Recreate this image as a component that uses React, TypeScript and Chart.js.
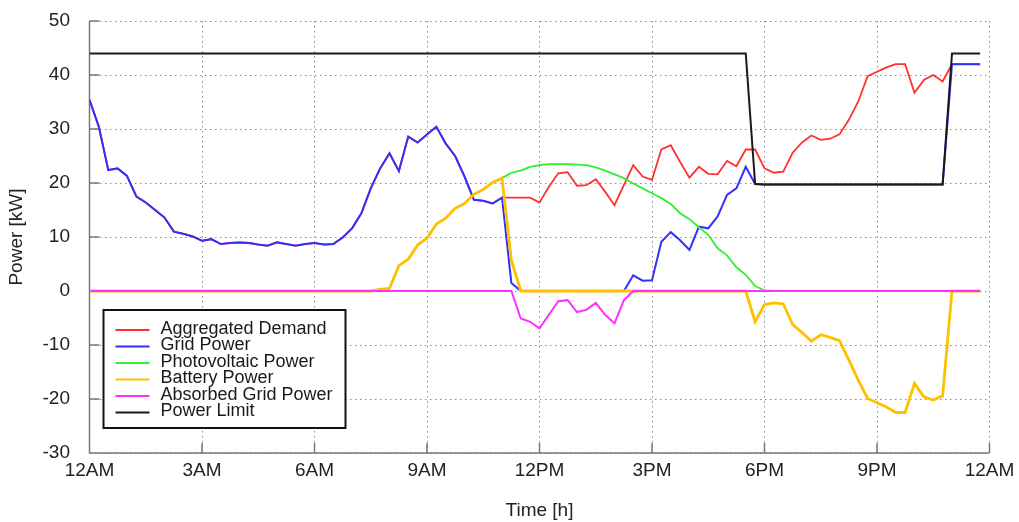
import React, { useEffect, useRef } from 'react';
import { Chart, registerables } from 'chart.js';

Chart.register(...registerables);

const FONT = "'Liberation Sans', Arial, Helvetica, sans-serif";

const X_TICK_LABELS = ['12AM', '3AM', '6AM', '9AM', '12PM', '3PM', '6PM', '9PM', '12AM'];
const SLOTS_PER_HOUR = 4; // 15-minute samples

// 96 samples, 00:00 .. 23:45
const gridPower = [
  35.4, 30.4, 22.4, 22.7,
  21.3, 17.5, 16.4, 15.0,
  13.6, 11.0, 10.6, 10.1,
  9.3, 9.6, 8.7, 8.9,
  9.0, 8.9, 8.6, 8.4,
  9.0, 8.7, 8.4, 8.7,
  8.9, 8.6, 8.7, 9.9,
  11.6, 14.4, 19.0, 22.7,
  25.5, 22.2, 28.6, 27.5,
  29.0, 30.4, 27.3, 25.0,
  21.2, 16.9, 16.7, 16.2,
  17.3, 1.5, 0, 0,
  0, 0, 0, 0,
  0, 0, 0, 0,
  0, 0, 2.9, 1.9,
  2.0, 9.1, 10.9, 9.4,
  7.6, 11.9, 11.6, 13.8,
  17.8, 19.0, 23.0, 19.8,
  19.7, 19.7, 19.7, 19.7,
  19.7, 19.7, 19.7, 19.7,
  19.7, 19.7, 19.7, 19.7,
  19.7, 19.7, 19.7, 19.7,
  19.7, 19.7, 19.7, 19.7,
  42.0, 42.0, 42.0, 42.0,
];

const aggregatedDemand = [
  35.4, 30.4, 22.4, 22.7,
  21.3, 17.5, 16.4, 15.0,
  13.6, 11.0, 10.6, 10.1,
  9.3, 9.6, 8.7, 8.9,
  9.0, 8.9, 8.6, 8.4,
  9.0, 8.7, 8.4, 8.7,
  8.9, 8.6, 8.7, 9.9,
  11.6, 14.4, 19.0, 22.7,
  25.5, 22.2, 28.6, 27.5,
  29.0, 30.4, 27.3, 25.0,
  21.2, 16.9, 16.7, 16.2,
  17.3, 17.3, 17.3, 17.3,
  16.4, 19.3, 21.8, 22.0,
  19.5, 19.6, 20.7, 18.4,
  15.9, 19.6, 23.3, 21.2,
  20.6, 26.2, 27.0, 23.9,
  21.0, 23.0, 21.7, 21.6,
  24.1, 23.1, 26.2, 26.2,
  22.7, 21.9, 22.1, 25.6,
  27.5, 28.8, 28.0, 28.2,
  29.0, 31.7, 35.1, 39.8,
  40.6, 41.4, 42.0, 42.0,
  36.7, 39.1, 40.0, 38.8,
  42.0, 42.0, 42.0, 42.0,
];

const photovoltaicPower = [
  0, 0, 0, 0,
  0, 0, 0, 0,
  0, 0, 0, 0,
  0, 0, 0, 0,
  0, 0, 0, 0,
  0, 0, 0, 0,
  0, 0, 0, 0,
  0, 0, 0, 0.3,
  0.5, 4.7, 5.9, 8.5,
  9.8, 12.4, 13.5, 15.3,
  16.2, 17.9, 18.8, 20.1,
  20.9, 21.9, 22.3, 23.0,
  23.3, 23.5, 23.5, 23.5,
  23.4, 23.3, 22.9, 22.3,
  21.6, 20.9, 19.9, 19.0,
  18.1, 17.2, 16.1, 14.4,
  13.3, 11.8, 10.4, 7.9,
  6.6, 4.4, 3.0, 0.9,
  0.1, 0, 0, 0,
  0, 0, 0, 0,
  0, 0, 0, 0,
  0, 0, 0, 0,
  0, 0, 0, 0,
  0, 0, 0, 0,
];

const batteryPower = [
  0, 0, 0, 0,
  0, 0, 0, 0,
  0, 0, 0, 0,
  0, 0, 0, 0,
  0, 0, 0, 0,
  0, 0, 0, 0,
  0, 0, 0, 0,
  0, 0, 0, 0.3,
  0.5, 4.7, 5.9, 8.5,
  9.8, 12.4, 13.5, 15.3,
  16.2, 17.9, 18.8, 20.1,
  20.9, 5.7, 0, 0,
  0, 0, 0, 0,
  0, 0, 0, 0,
  0, 0, 0, 0,
  0, 0, 0, 0,
  0, 0, 0, 0,
  0, 0, 0, -5.7,
  -2.5, -2.2, -2.4, -6.2,
  -7.7, -9.3, -8.1, -8.6,
  -9.2, -12.8, -16.5, -19.9,
  -20.7, -21.5, -22.5, -22.5,
  -17.1, -19.6, -20.2, -19.4,
  0, 0, 0, 0,
];

const absorbedGridPower = [
  0, 0, 0, 0,
  0, 0, 0, 0,
  0, 0, 0, 0,
  0, 0, 0, 0,
  0, 0, 0, 0,
  0, 0, 0, 0,
  0, 0, 0, 0,
  0, 0, 0, 0,
  0, 0, 0, 0,
  0, 0, 0, 0,
  0, 0, 0, 0,
  0, 0, -5.1, -5.7,
  -6.9, -4.4, -1.9, -1.7,
  -3.9, -3.5, -2.2, -4.4,
  -6.0, -1.7, 0, 0,
  0, 0, 0, 0,
  0, 0, 0, 0,
  0, 0, 0, 0,
  0, 0, 0, 0,
  0, 0, 0, 0,
  0, 0, 0, 0,
  0, 0, 0, 0,
  0, 0, 0, 0,
  0, 0, 0, 0,
];

const powerLimit = [
  44, 44, 44, 44,
  44, 44, 44, 44,
  44, 44, 44, 44,
  44, 44, 44, 44,
  44, 44, 44, 44,
  44, 44, 44, 44,
  44, 44, 44, 44,
  44, 44, 44, 44,
  44, 44, 44, 44,
  44, 44, 44, 44,
  44, 44, 44, 44,
  44, 44, 44, 44,
  44, 44, 44, 44,
  44, 44, 44, 44,
  44, 44, 44, 44,
  44, 44, 44, 44,
  44, 44, 44, 44,
  44, 44, 44, 19.8,
  19.7, 19.7, 19.7, 19.7,
  19.7, 19.7, 19.7, 19.7,
  19.7, 19.7, 19.7, 19.7,
  19.7, 19.7, 19.7, 19.7,
  19.7, 19.7, 19.7, 19.7,
  44, 44, 44, 44,
];

const SERIES = [
  { label: 'Aggregated Demand', values: aggregatedDemand, color: '#ff3030', width: 1.8, order: 5 },
  { label: 'Grid Power', values: gridPower, color: '#3030ff', width: 2, order: 4 },
  { label: 'Photovoltaic Power', values: photovoltaicPower, color: '#30ee30', width: 1.8, order: 3 },
  { label: 'Battery Power', values: batteryPower, color: '#ffc000', width: 2.8, order: 2 },
  { label: 'Absorbed Grid Power', values: absorbedGridPower, color: '#ff30ff', width: 2, order: 1 },
  { label: 'Power Limit', values: powerLimit, color: '#1a1a1a', width: 2, order: 0 },
];

const AXIS_COLOR = '#777777';

const axesPlugin = {
  id: 'gnuAxes',
  beforeDatasetsDraw(chart: any) {
    const { ctx, chartArea, scales } = chart;
    const xs = scales.x;
    const ys = scales.y;
    ctx.save();
    ctx.setLineDash([]);
    ctx.strokeStyle = AXIS_COLOR;
    ctx.lineWidth = 1.5;
    ctx.beginPath();
    ctx.moveTo(chartArea.left, chartArea.top);
    ctx.lineTo(chartArea.left, chartArea.bottom);
    ctx.lineTo(chartArea.right, chartArea.bottom);
    ys.ticks.forEach((t: any) => {
      const py = ys.getPixelForValue(t.value);
      ctx.moveTo(chartArea.left, py);
      ctx.lineTo(chartArea.left + 10, py);
    });
    xs.ticks.forEach((t: any) => {
      const px = xs.getPixelForValue(t.value);
      ctx.moveTo(px, chartArea.bottom);
      ctx.lineTo(px, chartArea.bottom - 10);
    });
    ctx.stroke();
    ctx.restore();
  },
};

const legendPlugin = {
  id: 'boxLegend',
  afterDraw(chart: any) {
    const { ctx, chartArea } = chart;
    const left = chartArea.left + 14;
    const top = chartArea.bottom - 143;
    const w = 242;
    const h = 118;
    ctx.save();
    ctx.setLineDash([]);
    ctx.fillStyle = '#ffffff';
    ctx.fillRect(left, top, w, h);
    ctx.lineWidth = 2;
    ctx.strokeStyle = '#111111';
    ctx.strokeRect(left, top, w, h);
    ctx.font = `18px ${FONT}`;
    ctx.textBaseline = 'middle';
    ctx.textAlign = 'left';
    chart.data.datasets.forEach((ds: any, i: number) => {
      const y = top + 20 + i * 16.5;
      ctx.strokeStyle = ds.borderColor;
      ctx.lineWidth = 2;
      ctx.beginPath();
      ctx.moveTo(left + 12, y);
      ctx.lineTo(left + 46, y);
      ctx.stroke();
      ctx.fillStyle = '#1a1a1a';
      ctx.fillText(ds.label, left + 57, y - 1);
    });
    ctx.restore();
  },
};

export default function App() {
  const canvasRef = useRef<HTMLCanvasElement | null>(null);

  useEffect(() => {
    if (!canvasRef.current) return;
    const datasets = SERIES.map((s) => ({
      label: s.label,
      data: s.values.map((v, i) => ({ x: i / SLOTS_PER_HOUR, y: v })),
      borderColor: s.color,
      backgroundColor: s.color,
      borderWidth: s.width,
      pointRadius: 0,
      tension: 0,
      fill: false,
      order: s.order,
    }));
    const tickFont = { family: FONT, size: 19 };
    const chart = new Chart(canvasRef.current, {
      type: 'line',
      data: { datasets },
      plugins: [axesPlugin, legendPlugin],
      options: {
        animation: false,
        responsive: false,
        maintainAspectRatio: false,
        layout: { padding: { left: 0, right: 29.5, top: 21, bottom: 0 } },
        plugins: {
          legend: { display: false },
          tooltip: { enabled: false },
        },
        scales: {
          x: {
            type: 'linear',
            min: 0,
            max: 24,
            afterFit: (s: any) => {
              s.height = 69;
              s.paddingLeft = 0;
              s.paddingRight = 0;
            },
            ticks: {
              stepSize: 3,
              autoSkip: false,
              maxRotation: 0,
              padding: 6.6,
              color: '#222222',
              font: tickFont,
              callback: (v: any) => X_TICK_LABELS[Math.round(Number(v) / 3)],
            },
            grid: { color: '#8a8a8a', lineWidth: 1, drawTicks: false },
            border: { display: false, dash: [1.5, 3.5] },
            title: {
              display: true,
              text: 'Time [h]',
              color: '#222222',
              font: { family: FONT, size: 19 },
              padding: { top: 0, bottom: 0 },
            },
          },
          y: {
            min: -30,
            max: 50,
            afterFit: (s: any) => {
              s.width = 89.5;
              s.paddingTop = 0;
              s.paddingBottom = 0;
            },
            ticks: {
              stepSize: 10,
              padding: 19.5,
              color: '#222222',
              font: tickFont,
            },
            grid: { color: '#8a8a8a', lineWidth: 1, drawTicks: false },
            border: { display: false, dash: [1.5, 3.5] },
            title: {
              display: true,
              text: 'Power [kW]',
              color: '#222222',
              font: { family: FONT, size: 19 },
              padding: { top: 5, bottom: 0 },
            },
          },
        },
      } as any,
    } as any);
    return () => chart.destroy();
  }, []);

  return (
    <div style={{ position: 'fixed', left: 0, top: 0, width: 1019, height: 522, background: '#ffffff' }}>
      <canvas ref={canvasRef} width={1019} height={522} style={{ width: 1019, height: 522, display: 'block' }} />
    </div>
  );
}
